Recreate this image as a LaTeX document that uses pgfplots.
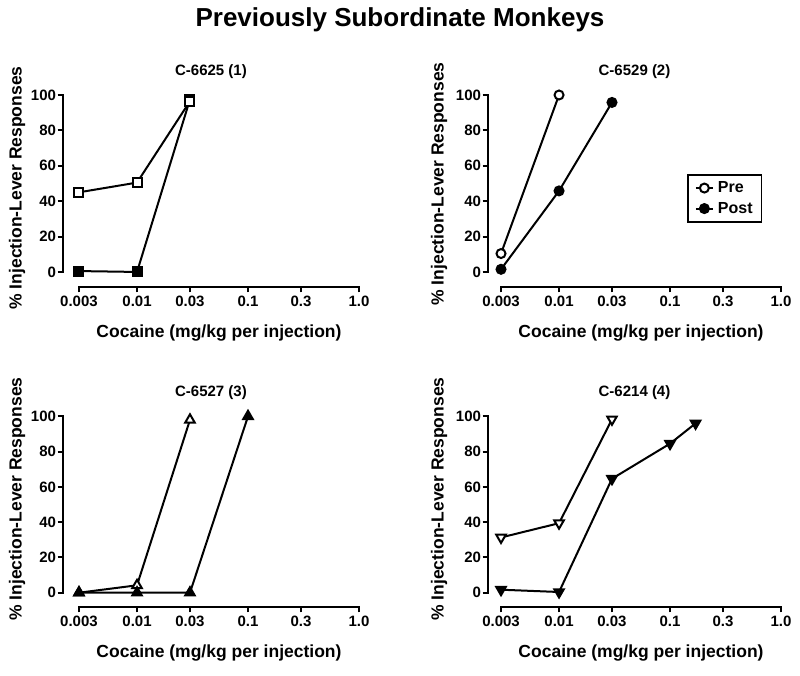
\documentclass[border=0pt]{standalone}
\usepackage{fontspec}
\setmainfont{Liberation Sans}
\usepackage{pgfplots}
\pgfplotsset{compat=1.18}

\newcommand{\lbl}{\bfseries\fontsize{17.5}{20}\selectfont}
\newcommand{\ptl}{\bfseries\fontsize{15}{17}\selectfont}

\pgfplotsset{
  monkey/.style={
    scale only axis, clip=false, anchor=south west,
    xmax=1, ymax=100,
    axis x line=bottom, axis y line=left,
    axis line style={draw=none},
    xtick={0.003,0.01,0.03,0.1,0.3,1},
    xticklabels={0.003,0.01,0.03,0.1,0.3,1.0},
    minor xtick={},
    ytick={0,20,40,60,80,100},
    yticklabels={0,20,40,60,80,100},
    tick align=outside, major tick length=5.5pt,
    tick style={black, line width=2pt},
    tick label style={font=\ptl},
    yticklabel style={xshift=2pt},
    every axis plot/.append style={black, line width=2pt,
      mark options={solid, line width=1.6pt}},
  },
}

\begin{document}
\begin{tikzpicture}
\path (0pt,0pt) rectangle (800pt,676pt);

% panel 1
\begin{axis}[xmode=log, monkey, at={(63pt,389pt)}, width=296pt, height=192pt,
  xmin=0.002153, ymin=-8.5]
\addplot[mark=square*, mark size=4.5pt, mark options={fill=black}] coordinates {(0.003,0.5) (0.01,0) (0.03,97.5)};
\addplot[mark=square*, mark size=4.5pt, mark options={fill=white}] coordinates {(0.003,45) (0.01,50.5) (0.03,96.5)};
\draw[line width=2pt, line cap=rect] (axis cs:0.003,-8.5) -- (axis cs:1,-8.5);
\draw[line width=2pt, line cap=rect] (axis cs:0.002153,0) -- (axis cs:0.002153,100);
\end{axis}

% panel 2
\begin{axis}[xmode=log, monkey, at={(488pt,389pt)}, width=293pt, height=192pt,
  xmin=0.00229, ymin=-8.5,
  legend style={at={(0.679,0.589)}, anchor=north west, draw=black,
    line width=1.8pt, font=\bfseries\fontsize{16}{18}\selectfont,
    inner xsep=7pt, inner ysep=5pt,
    row sep=4pt, cells={anchor=west},
    /tikz/every odd column/.append style={column sep=2pt}}]
\addplot[mark=*, mark size=4.5pt, mark options={fill=white}] coordinates {(0.003,10.4) (0.01,100)};
\addlegendentry{Pre}
\addplot[mark=*, mark size=4.5pt, mark options={fill=black}] coordinates {(0.003,1.5) (0.01,45.8) (0.03,95.8)};
\addlegendentry{Post}
\draw[line width=2pt, line cap=rect] (axis cs:0.003,-8.5) -- (axis cs:1,-8.5);
\draw[line width=2pt, line cap=rect] (axis cs:0.00229,0) -- (axis cs:0.00229,100);
\end{axis}

% panel 3
\begin{axis}[xmode=log, monkey, at={(63pt,69pt)}, width=296pt, height=190.7pt,
  xmin=0.002153, ymin=-8.1]
\addplot[mark=triangle*, mark size=5.5pt, mark options={fill=white}] coordinates {(0.003,0) (0.01,4.2) (0.03,98)};
\addplot[mark=triangle*, mark size=5.5pt, mark options={fill=black}] coordinates {(0.003,0) (0.01,0) (0.03,0) (0.1,100)};
\draw[line width=2pt, line cap=rect] (axis cs:0.003,-8.1) -- (axis cs:1,-8.1);
\draw[line width=2pt, line cap=rect] (axis cs:0.002153,0) -- (axis cs:0.002153,100);
\end{axis}

% panel 4
\begin{axis}[xmode=log, monkey, at={(488pt,69pt)}, width=293pt, height=190.7pt,
  xmin=0.00229, ymin=-8.1]
\addplot[mark=triangle*, mark size=5.5pt, mark options={fill=white, rotate=180}] coordinates {(0.003,31.3) (0.01,39.4) (0.03,98.3)};
\addplot[mark=triangle*, mark size=5.5pt, mark options={fill=black, rotate=180}] coordinates {(0.003,1.7) (0.01,0.4) (0.03,64.6) (0.1,84.5) (0.17,96)};
\draw[line width=2pt, line cap=rect] (axis cs:0.003,-8.1) -- (axis cs:1,-8.1);
\draw[line width=2pt, line cap=rect] (axis cs:0.00229,0) -- (axis cs:0.00229,100);
\end{axis}

% titles and labels
\node at (400pt,656pt) {\bfseries\fontsize{26}{30}\selectfont Previously Subordinate Monkeys};
\node at (211pt,604pt) {\ptl C-6625 (1)};
\node at (634.5pt,604pt) {\ptl C-6529 (2)};
\node at (211pt,283pt) {\ptl C-6527 (3)};
\node at (634.5pt,283pt) {\ptl C-6214 (4)};
\node at (219pt,343pt) {\lbl Cocaine (mg/kg per injection)};
\node at (641pt,343pt) {\lbl Cocaine (mg/kg per injection)};
\node at (219pt,23pt) {\lbl Cocaine (mg/kg per injection)};
\node at (641pt,23pt) {\lbl Cocaine (mg/kg per injection)};
\node[rotate=90] at (17pt,488pt) {\lbl \% Injection-Lever Responses};
\node[rotate=90] at (439pt,492pt) {\lbl \% Injection-Lever Responses};
\node[rotate=90] at (17pt,177pt) {\lbl \% Injection-Lever Responses};
\node[rotate=90] at (439pt,177pt) {\lbl \% Injection-Lever Responses};
\end{tikzpicture}
\end{document}
